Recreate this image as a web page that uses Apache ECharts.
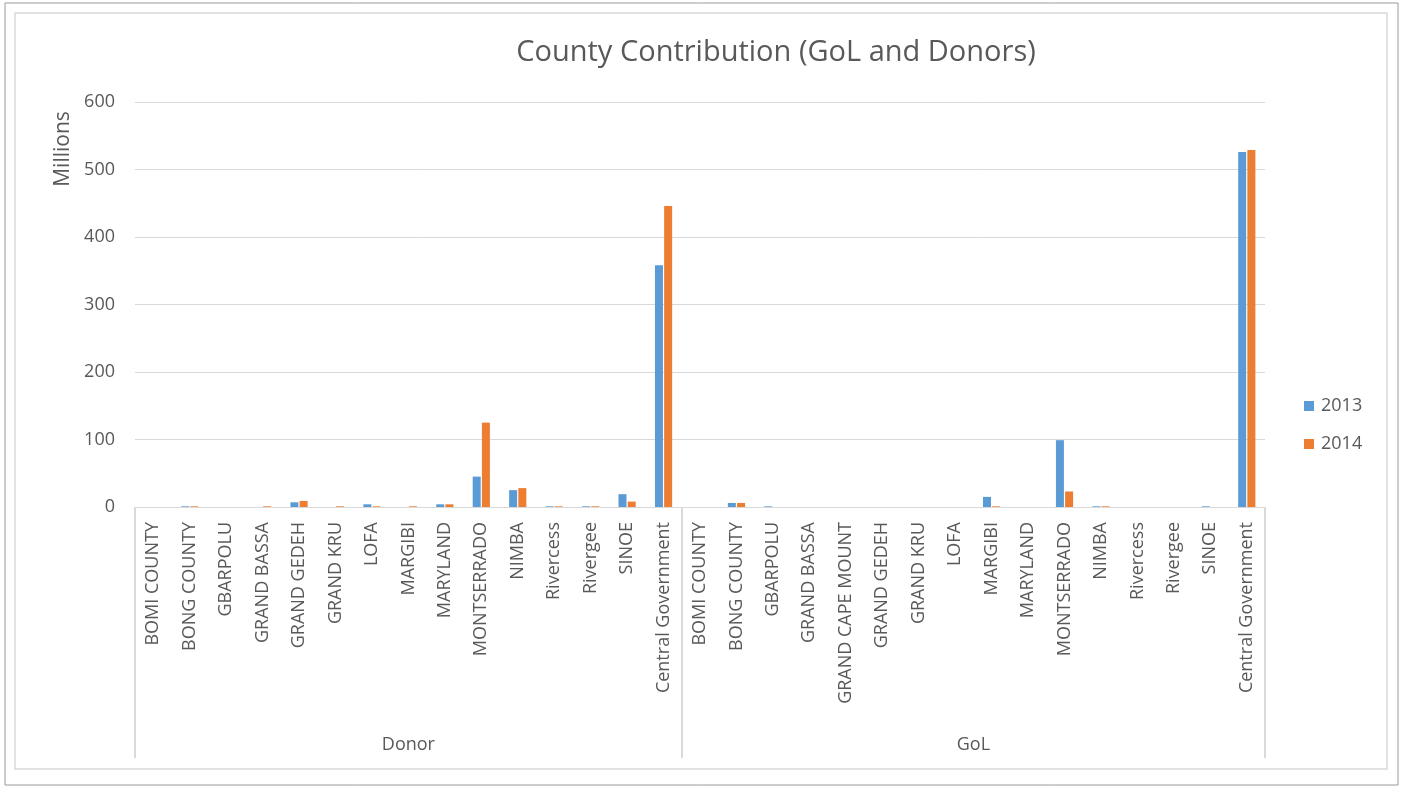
<!DOCTYPE html>
<html>
<head>
<meta charset="utf-8">
<title>County Contribution (GoL and Donors)</title>
<script src="https://cdn.jsdelivr.net/npm/echarts@6/dist/echarts.min.js"></script>
<style>
  html, body { margin: 0; padding: 0; background: #ffffff; }
  #chart { width: 1402px; height: 787px; }
</style>
</head>
<body>
<div id="chart"></div>
<script>
// Funding sources (outer axis level) and the counties listed under each
const groupNames = ['Donor', 'GoL'];
const donorCounties = ['BOMI COUNTY', 'BONG COUNTY', 'GBARPOLU', 'GRAND BASSA', 'GRAND GEDEH',
  'GRAND KRU', 'LOFA', 'MARGIBI', 'MARYLAND', 'MONTSERRADO', 'NIMBA', 'Rivercess',
  'Rivergee', 'SINOE', 'Central Government'];
const golCounties = ['BOMI COUNTY', 'BONG COUNTY', 'GBARPOLU', 'GRAND BASSA', 'GRAND CAPE MOUNT',
  'GRAND GEDEH', 'GRAND KRU', 'LOFA', 'MARGIBI', 'MARYLAND', 'MONTSERRADO', 'NIMBA',
  'Rivercess', 'Rivergee', 'SINOE', 'Central Government'];

// Contributions in millions
const donor2013 = [0, 1, 0, 0, 7, 0, 4, 0, 4, 45, 25, 1, 1, 19, 358];
const donor2014 = [0, 1, 0, 1, 9, 1, 1, 1, 4, 125, 28, 1, 1, 8, 446];
const gol2013 = [0, 6, 1, 0, 0, 0, 0, 0, 15, 0, 99, 1, 0, 0, 1, 526];
const gol2014 = [0, 6, 0, 0, 0, 0, 0, 0, 1, 0, 23, 1, 0, 0, 0, 529];

const seriesNames = ['2013', '2014'];
const yTicks = [0, 100, 200, 300, 400, 500, 600];

const categories = donorCounties.concat(golCounties);
const values2013 = donor2013.concat(gol2013);
const values2014 = donor2014.concat(gol2014);

// Boundaries and centres of the outer-level groups, in category units
const groupSizes = [donorCounties.length, golCounties.length];
const groupEdges = [0];
groupSizes.forEach(function (n, i) { groupEdges.push(groupEdges[i] + n); });
const groupCentres = groupSizes.map(function (n, i) { return groupEdges[i] + n / 2; });

const textColor = '#595959';
const lineColor = '#d9d9d9';
const font = '"Open Sans", "Noto Sans", sans-serif';

const chart = echarts.init(document.getElementById('chart'), null, { renderer: 'canvas' });

chart.setOption({
  animation: false,
  backgroundColor: '#ffffff',
  textStyle: { fontFamily: font },
  title: {
    text: 'County Contribution (GoL and Donors)',
    left: 771,
    top: 33,
    textAlign: 'center',
    textStyle: { fontFamily: font, fontSize: 29, fontWeight: 'normal', color: textColor }
  },
  legend: {
    orient: 'vertical',
    left: 1299,
    top: 392,
    itemWidth: 10,
    itemHeight: 10,
    itemGap: 20,
    icon: 'rect',
    data: seriesNames,
    textStyle: { fontFamily: font, fontSize: 18, color: textColor, padding: [0, 0, 0, 2] }
  },
  grid: { left: 135, right: 137, top: 102, bottom: 280, containLabel: false },
  xAxis: [
    {
      type: 'category',
      data: categories,
      axisLine: { lineStyle: { color: lineColor, width: 1 } },
      axisTick: { show: false },
      axisLabel: {
        interval: 0,
        rotate: 90,
        margin: 15,
        fontFamily: font,
        fontSize: 18,
        color: textColor
      }
    },
    {
      type: 'value',
      position: 'bottom',
      min: 0,
      max: categories.length,
      splitLine: { show: false },
      axisLine: { show: false },
      axisTick: {
        show: true,
        customValues: groupEdges,
        length: 251,
        lineStyle: { color: lineColor, width: 2 }
      },
      axisLabel: {
        customValues: groupCentres,
        margin: 229,
        fontFamily: font,
        fontSize: 18,
        color: textColor,
        formatter: function (v) {
          const i = groupCentres.indexOf(v);
          return i >= 0 ? groupNames[i] : '';
        }
      }
    }
  ],
  yAxis: {
    type: 'value',
    min: yTicks[0],
    max: yTicks[yTicks.length - 1],
    interval: yTicks[1] - yTicks[0],
    axisLine: { show: false },
    axisTick: { show: false },
    splitLine: { lineStyle: { color: lineColor, width: 1 } },
    axisLabel: { margin: 20, fontFamily: font, fontSize: 18, color: textColor }
  },
  series: [
    {
      name: seriesNames[0],
      type: 'bar',
      xAxisIndex: 0,
      data: values2013,
      barWidth: 8,
      barGap: '15%',
      itemStyle: { color: '#5b9bd5' }
    },
    {
      name: seriesNames[1],
      type: 'bar',
      xAxisIndex: 0,
      data: values2014,
      barWidth: 8,
      barGap: '15%',
      itemStyle: { color: '#ed7d31' }
    }
  ],
  graphic: [
    {
      type: 'rect',
      silent: true,
      shape: { x: 5, y: 3, width: 1393, height: 782 },
      style: { fill: 'none', stroke: '#9a9a9a', lineWidth: 1 }
    },
    {
      type: 'rect',
      silent: true,
      shape: { x: 15, y: 13, width: 1372, height: 756 },
      style: { fill: 'none', stroke: lineColor, lineWidth: 1.5 }
    },
    {
      type: 'text',
      silent: true,
      x: 63,
      y: 149,
      rotation: Math.PI / 2,
      style: {
        text: 'Millions',
        fontFamily: font,
        fontSize: 21,
        fill: textColor,
        align: 'center',
        verticalAlign: 'middle'
      }
    }
  ]
});
</script>
</body>
</html>
